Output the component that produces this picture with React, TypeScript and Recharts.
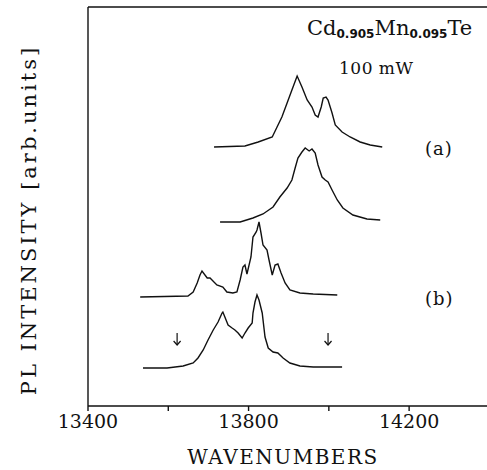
import React from "react";
import { LineChart, Line, XAxis, YAxis, ReferenceLine, ReferenceDot, Customized } from "recharts";

// ── data (wavenumber in cm-1, intensity in arb. units) ──

const xTicks = [13400, 13600, 13800, 14000, 14200];
const xTickLabels = ["13400", "", "13800", "", "14200"];

// (a) upper trace
const a1Wn = [13714, 13791, 13824, 13859, 13871, 13883, 13896, 13908, 13921, 13933, 13946, 13958, 13966, 13973, 13981, 13986, 13993, 13998, 14008, 14016, 14033, 14053, 14078, 14103, 14133];
const a1Int = [259, 260, 264, 269, 279, 289, 303, 316, 330, 319, 306, 299, 291, 289, 299, 308, 309, 306, 293, 281, 274, 269, 264, 261, 259];

// (a) lower trace
const a2Wn = [13729, 13779, 13811, 13836, 13861, 13878, 13896, 13908, 13916, 13923, 13933, 13941, 13951, 13958, 13966, 13973, 13983, 13991, 13998, 14008, 14021, 14035, 14060, 14095, 14128];
const a2Int = [184, 184, 188, 192, 199, 209, 218, 226, 238, 248, 254, 258, 255, 257, 253, 241, 229, 226, 224, 216, 206, 198, 191, 187, 186];

// (b) upper trace
const b1Wn = [13530, 13649, 13662, 13672, 13679, 13684, 13697, 13704, 13721, 13736, 13746, 13761, 13771, 13779, 13786, 13791, 13796, 13806, 13811, 13819, 13821, 13826, 13831, 13836, 13846, 13851, 13859, 13866, 13873, 13881, 13891, 13903, 13928, 13961, 14021];
const b1Int = [109, 110, 114, 123, 131, 135, 128, 128, 121, 119, 114, 113, 114, 126, 139, 141, 132, 149, 169, 174, 176, 184, 173, 161, 156, 146, 131, 141, 142, 133, 123, 116, 113, 112, 111];

// (b) lower trace
const b2Wn = [13537, 13597, 13637, 13662, 13674, 13687, 13699, 13712, 13724, 13734, 13736, 13749, 13759, 13766, 13774, 13784, 13791, 13799, 13809, 13811, 13816, 13821, 13826, 13834, 13841, 13849, 13861, 13873, 13886, 13903, 13928, 13961, 14033];
const b2Int = [38, 38, 40, 43, 48, 56, 66, 76, 84, 93, 94, 81, 78, 76, 73, 68, 73, 78, 83, 93, 104, 111, 106, 93, 69, 58, 54, 53, 48, 43, 40, 39, 39];

const arrowWn = [13622, 13998];
const arrowInt = 67;

const zip = (wn: number[], v: number[]) => wn.map((w, i) => ({ wn: w, v: v[i] }));
const traces = [zip(a1Wn, a1Int), zip(a2Wn, a2Int), zip(b1Wn, b1Int), zip(b2Wn, b2Int)];

const serif = "DejaVu Serif";

// eslint-disable-next-line @typescript-eslint/no-explicit-any
function XTick(props: any) {
  const { x, y, payload } = props;
  const label = xTickLabels[xTicks.indexOf(payload.value)] ?? "";
  return (
    <text x={x} y={y + 14} textAnchor="middle" fontFamily={serif} fontSize={19} fill="#111">
      {label}
    </text>
  );
}

// small down arrow drawn around the dot centre
// eslint-disable-next-line @typescript-eslint/no-explicit-any
function DownArrow(props: any) {
  const { cx, cy } = props;
  return (
    <g stroke="#111" strokeWidth={1.2} fill="none">
      <line x1={cx} y1={cy - 6} x2={cx} y2={cy + 6} />
      <polyline points={`${cx - 3.5},${cy + 2} ${cx},${cy + 6} ${cx + 3.5},${cy + 2}`} />
    </g>
  );
}

function Annotations() {
  return (
    <g fill="#111" fontFamily={serif}>
      <text x={307} y={35} fontSize={21}>
        Cd
        <tspan fontFamily="DejaVu Sans" fontWeight={700} fontSize={12} dy={3}>0.905</tspan>
        <tspan dy={-3}>Mn</tspan>
        <tspan fontFamily="DejaVu Sans" fontWeight={700} fontSize={12} dy={3}>0.095</tspan>
        <tspan dy={-3}>Te</tspan>
      </text>
      <text x={339} y={74} fontSize={17} letterSpacing={0.5}>100 mW</text>
      <text x={425} y={155} fontSize={18} letterSpacing={1}>(a)</text>
      <text x={425} y={305} fontSize={18} letterSpacing={1}>(b)</text>
      <text x={283} y={464} fontSize={20} letterSpacing={1.5} textAnchor="middle">WAVENUMBERS</text>
      <text x={36} y={220} fontSize={21} letterSpacing={3} textAnchor="middle" transform="rotate(-90 36 220)">
        PL INTENSITY [arb.units]
      </text>
    </g>
  );
}

export default function App() {
  return (
    <div style={{ position: "absolute", left: 0, top: 0, background: "#fff" }}>
      <LineChart width={487} height={470} margin={{ top: 7, right: 0, left: 0, bottom: 0 }}>
        <XAxis
          dataKey="wn"
          type="number"
          domain={[13400, 14394]}
          ticks={xTicks}
          allowDataOverflow
          height={64}
          tickSize={5}
          tickMargin={3}
          stroke="#111"
          strokeWidth={1.4}
          tick={<XTick />}
        />
        <YAxis
          type="number"
          domain={[0, 399]}
          width={88}
          tick={false}
          tickLine={false}
          stroke="#111"
          strokeWidth={1.4}
        />
        <ReferenceLine y={399} stroke="#111" strokeWidth={1.4} />
        {traces.map((d, i) => (
          <Line
            key={i}
            data={d}
            dataKey="v"
            type="linear"
            stroke="#111"
            strokeWidth={1.4}
            dot={false}
            isAnimationActive={false}
          />
        ))}
        {arrowWn.map((w) => (
          <ReferenceDot key={w} x={w} y={arrowInt} r={6} ifOverflow="visible" shape={<DownArrow />} />
        ))}
        <Customized component={Annotations} />
      </LineChart>
    </div>
  );
}
